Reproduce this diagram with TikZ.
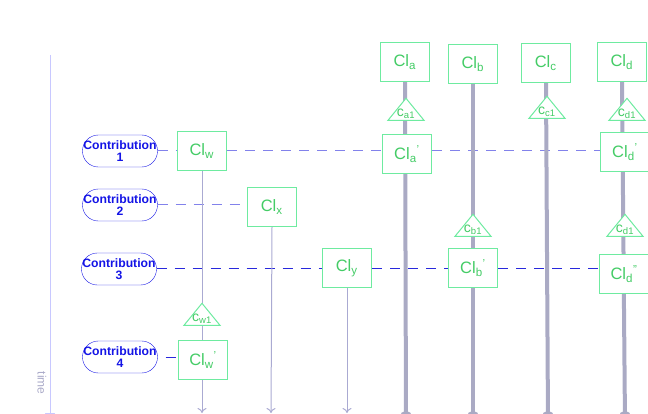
\documentclass[tikz,border=0pt]{standalone}
\usepackage{fontspec}
\setmainfont{Liberation Sans}
\usetikzlibrary{shapes.geometric,arrows.meta,backgrounds}
\definecolor{gtext}{RGB}{68,204,102}
\definecolor{gbord}{RGB}{110,235,160}
\definecolor{thickc}{RGB}{170,170,196}
\definecolor{thinc}{RGB}{170,170,210}
\definecolor{axisc}{RGB}{200,200,255}
\definecolor{timec}{RGB}{170,170,200}
\definecolor{cblue}{RGB}{20,20,230}
\definecolor{dlight}{RGB}{130,130,235}
\definecolor{ddark}{RGB}{40,40,220}
\tikzset{
 clbox/.style={draw=gbord, line width=1.3pt, fill=white, minimum width=49pt, minimum height=39pt, inner sep=0pt, text=gtext, font=\fontsize{16.5}{18}\selectfont},
 contrib/.style={draw=cblue, rectangle, rounded corners=15.9pt, minimum width=75pt, minimum height=32pt, inner sep=0pt, text=cblue, font=\bfseries\fontsize{12.2}{12}\selectfont, align=center, fill=white},
 tri/.style={draw=gbord, line width=1pt, fill=white, isosceles triangle, shape border rotate=90, isosceles triangle stretches, minimum width=36pt, minimum height=22pt, inner sep=0pt, anchor=apex},
 trilbl/.style={text=gtext, font=\fontsize{14}{14}\selectfont, inner sep=0pt},
 thickl/.style={draw=thickc, line width=4pt, -{Circle[length=12pt]}},
 thinl/.style={draw=thinc, line width=1pt, -{To[length=5pt,width=9pt]}},
 dlt/.style={draw=dlight, line width=1pt, dash pattern=on 10pt off 8pt},
 ddk/.style={draw=ddark, line width=1pt, dash pattern=on 10pt off 8pt},
}
\newcommand{\cl}[2]{Cl\textsubscript{#1}\textsuperscript{#2}}
\newcommand{\cs}[1]{c\textsubscript{\fontsize{9.5}{10}\selectfont #1}}
\begin{document}
\begin{tikzpicture}[x=1pt,y=-1pt]
\useasboundingbox (0,0) rectangle (648,414);
% contributions
\node[contrib] (c1) at (120,151) {Contribution\\1};
\node[contrib] (c2) at (120,205) {Contribution\\2};
\node[contrib] (c3) at (119,269) {Contribution\\3};
\node[contrib] (c4) at (120,357) {Contribution\\4};
% boxes
\node[clbox] (w) at (202,151) {\cl{w}{}};
\node[clbox] (x) at (272,207) {\cl{x}{}};
\node[clbox] (y) at (347,268) {\cl{y}{}};
\node[clbox] (wp) at (203,360) {\cl{w}{'}};
\node[clbox] (a) at (405,62) {\cl{a}{}};
\node[clbox] (b) at (473,64) {\cl{b}{}};
\node[clbox] (c) at (546,63) {\cl{c}{}};
\node[clbox] (d) at (622,62) {\cl{d}{}};
\node[clbox] (ap) at (407,154) {\cl{a}{'}};
\node[clbox] (dp) at (625,152) {\cl{d}{'}};
\node[clbox] (bp) at (473,268) {\cl{b}{'}};
\node[clbox] (dpp) at (624,274) {\cl{d}{''}};
% triangles
\node[tri] (ta) at (406,97) {};
\node[trilbl] at (406,113.5) {\cs{a1}};
\node[tri] (tc) at (547,95) {};
\node[trilbl] at (547,111.5) {\cs{c1}};
\node[tri] (td1) at (627,97) {};
\node[trilbl] at (627,113.5) {\cs{d1}};
\node[tri] (tb) at (473,213) {};
\node[trilbl] at (473,229.5) {\cs{b1}};
\node[tri] (td2) at (625,213) {};
\node[trilbl] at (625,229.5) {\cs{d1}};
\node[tri] (tw) at (202,302) {};
\node[trilbl] at (202,318.5) {\cs{w1}};
% time label
\node[rotate=-90, text=timec, font=\fontsize{12}{12}\selectfont, inner sep=0pt] (tl) at (42,383) {time};
% end coordinates
\coordinate (t0) at (50,55);
\coordinate (t1) at (50,421);
\coordinate (ea) at (406,423);
\coordinate (eb) at (473,423);
\coordinate (ec) at (548,423);
\coordinate (ed) at (625,423);
\coordinate (ew) at (202,413);
\coordinate (ex) at (271,413);
\coordinate (ey) at (347,413);
\begin{scope}[on background layer]
\draw[dlt] (c1.east) -- (c1.east -| w.west);
\draw[dlt] (w.east) -- (w.east -| ap.west);
\draw[dlt] (ap.east |- w.east) -- (w.east -| dp.west);
\draw[dlt] (c2.east) -- (c2.east -| x.west);
\draw[ddk] (c3.east |- y.east) -- (y.west);
\draw[ddk] (y.east) -- (y.east -| bp.west);
\draw[ddk] (bp.east) -- (bp.east -| dpp.west);
\draw[ddk, dash phase=-8pt] (c4.east) -- (c4.east -| wp.west);
\draw[axisc, line width=0.8pt, -{Triangle[width=10pt,length=8pt]}] (t0) -- (t1);
\draw[thickl] (a.south) -- (ea);
\draw[thickl] (b.south) -- (eb);
\draw[thickl] (c.south) -- (ec);
\draw[thickl] (d.south) -- (ed);
\draw[thinl] (w.south) -- (ew);
\draw[thinl] (x.south) -- (ex);
\draw[thinl] (y.south) -- (ey);
\end{scope}
\end{tikzpicture}
\end{document}
